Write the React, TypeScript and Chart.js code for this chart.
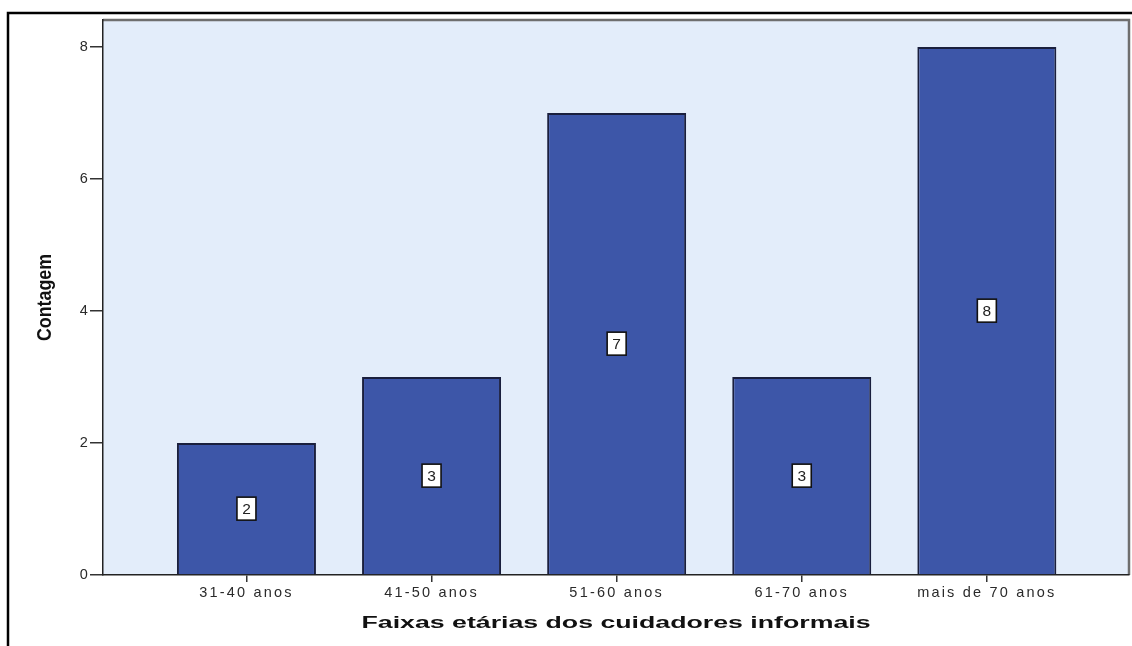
import { useEffect, useRef } from 'react';
import { Chart, registerables } from 'chart.js';

Chart.register(...registerables);

// Age groups of the informal caregivers and how many fall in each
const categories = ['31-40 anos', '41-50 anos', '51-60 anos', '61-70 anos', 'mais de 70 anos'];
const counts = [2, 3, 7, 3, 8];
const yTicks = [0, 2, 4, 6, 8];
const xTitle = 'Faixas etárias dos cuidadores informais';
const yTitle = 'Contagem';

const W = 1132;
const H = 646;
const SANS = '"Liberation Sans", Arial, Helvetica, sans-serif';

const framePlugin = {
  id: 'frame',
  beforeDraw(chart: any) {
    const { ctx, chartArea: a } = chart;
    ctx.save();
    ctx.fillStyle = '#ffffff';
    ctx.fillRect(0, 0, W, H);
    // plot background
    ctx.fillStyle = '#E3EDFA';
    ctx.fillRect(a.left, a.top, a.right - a.left, a.bottom - a.top);
    // outer frame (top and left)
    ctx.strokeStyle = '#000000';
    ctx.lineWidth = 2.5;
    ctx.beginPath();
    ctx.moveTo(8, H);
    ctx.lineTo(8, 13);
    ctx.lineTo(W, 13);
    ctx.stroke();
    // top and right edges of the plot box
    ctx.strokeStyle = '#6e6e6e';
    ctx.lineWidth = 2.5;
    ctx.beginPath();
    ctx.moveTo(a.left, a.top);
    ctx.lineTo(a.right, a.top);
    ctx.lineTo(a.right, a.bottom);
    ctx.stroke();
    ctx.restore();
    // wide-set tick label text
    ctx.letterSpacing = '2.2px';
  },
  afterDatasetsDraw(chart: any) {
    const { ctx } = chart;
    const meta = chart.getDatasetMeta(0);
    ctx.save();
    ctx.letterSpacing = '0px';
    meta.data.forEach((bar: any, i: number) => {
      const { x, y, base } = bar.getProps(['x', 'y', 'base'], true);
      const cy = (y + base) / 2;
      const bw = 19;
      const bh = 23;
      ctx.fillStyle = '#ffffff';
      ctx.fillRect(x - bw / 2, cy - bh / 2, bw, bh);
      ctx.strokeStyle = '#111111';
      ctx.lineWidth = 1.6;
      ctx.strokeRect(x - bw / 2, cy - bh / 2, bw, bh);
      ctx.fillStyle = '#222222';
      ctx.font = `15.5px ${SANS}`;
      ctx.textAlign = 'center';
      ctx.textBaseline = 'middle';
      ctx.fillText(String(counts[i]), x, cy + 1);
    });
    ctx.restore();
  },
  afterDraw(chart: any) {
    const { ctx, chartArea: a } = chart;
    ctx.letterSpacing = '0px';
    // x axis title
    ctx.save();
    ctx.font = `bold 16px ${SANS}`;
    const wx = ctx.measureText(xTitle).width;
    ctx.translate((a.left + a.right) / 2, a.bottom + 52.5);
    ctx.scale(509 / wx, 1);
    ctx.fillStyle = '#111111';
    ctx.textAlign = 'center';
    ctx.textBaseline = 'alphabetic';
    ctx.fillText(xTitle, 0, 0);
    ctx.restore();
    // y axis title
    ctx.save();
    ctx.font = `bold 21px ${SANS}`;
    const wy = ctx.measureText(yTitle).width;
    ctx.translate(51, (a.top + a.bottom) / 2);
    ctx.rotate(-Math.PI / 2);
    ctx.scale(87 / wy, 1);
    ctx.fillStyle = '#111111';
    ctx.textAlign = 'center';
    ctx.textBaseline = 'alphabetic';
    ctx.fillText(yTitle, 0, 0);
    ctx.restore();
  },
};

export default function App() {
  const canvasRef = useRef<HTMLCanvasElement | null>(null);

  useEffect(() => {
    const canvas = canvasRef.current;
    if (!canvas) return;
    const chart = new Chart(canvas, {
      type: 'bar',
      data: {
        datasets: [
          {
            data: counts.map((v, i) => ({ x: i, y: v })),
            backgroundColor: '#3D56A8',
            borderColor: '#1A1F3D',
            borderWidth: 2,
            categoryPercentage: 1,
            barPercentage: 0.751,
          },
        ],
      },
      options: {
        responsive: false,
        animation: false,
        devicePixelRatio: 1,
        layout: { padding: { top: 20, right: 3, left: 0, bottom: 0 } },
        plugins: {
          legend: { display: false },
          tooltip: { enabled: false },
        },
        scales: {
          x: {
            type: 'linear',
            offset: false,
            min: -0.775,
            max: 4.768,
            afterBuildTicks: (s: any) => {
              s.ticks = categories.map((_, i) => ({ value: i }));
            },
            afterFit: (s: any) => {
              s.height = 71;
            },
            ticks: {
              autoSkip: false,
              maxRotation: 0,
              padding: 2,
              color: '#2a2a2a',
              font: { family: SANS, size: 14.5 },
              callback: (v: any) => categories[Number(v)] ?? '',
            },
            grid: {
              offset: false,
              drawOnChartArea: false,
              drawTicks: true,
              tickLength: 7,
              color: '#333333',
              lineWidth: 1.5,
            },
            border: { display: true, color: '#222222', width: 1.5 },
          },
          y: {
            min: 0,
            max: 8.41,
            afterBuildTicks: (s: any) => {
              s.ticks = yTicks.map((v) => ({ value: v }));
            },
            afterFit: (s: any) => {
              s.width = 103;
            },
            ticks: {
              padding: 0,
              color: '#2a2a2a',
              font: { family: SANS, size: 14.5 },
            },
            grid: {
              drawOnChartArea: false,
              drawTicks: true,
              tickLength: 13,
              color: '#333333',
              lineWidth: 1.5,
            },
            border: { display: true, color: '#222222', width: 1.5 },
          },
        },
      },
      plugins: [framePlugin],
    });
    return () => chart.destroy();
  }, []);

  return (
    <div style={{ position: 'absolute', left: 0, top: 0, width: W, height: H, background: '#fff' }}>
      <canvas ref={canvasRef} width={W} height={H} style={{ display: 'block', width: W, height: H }} />
    </div>
  );
}
